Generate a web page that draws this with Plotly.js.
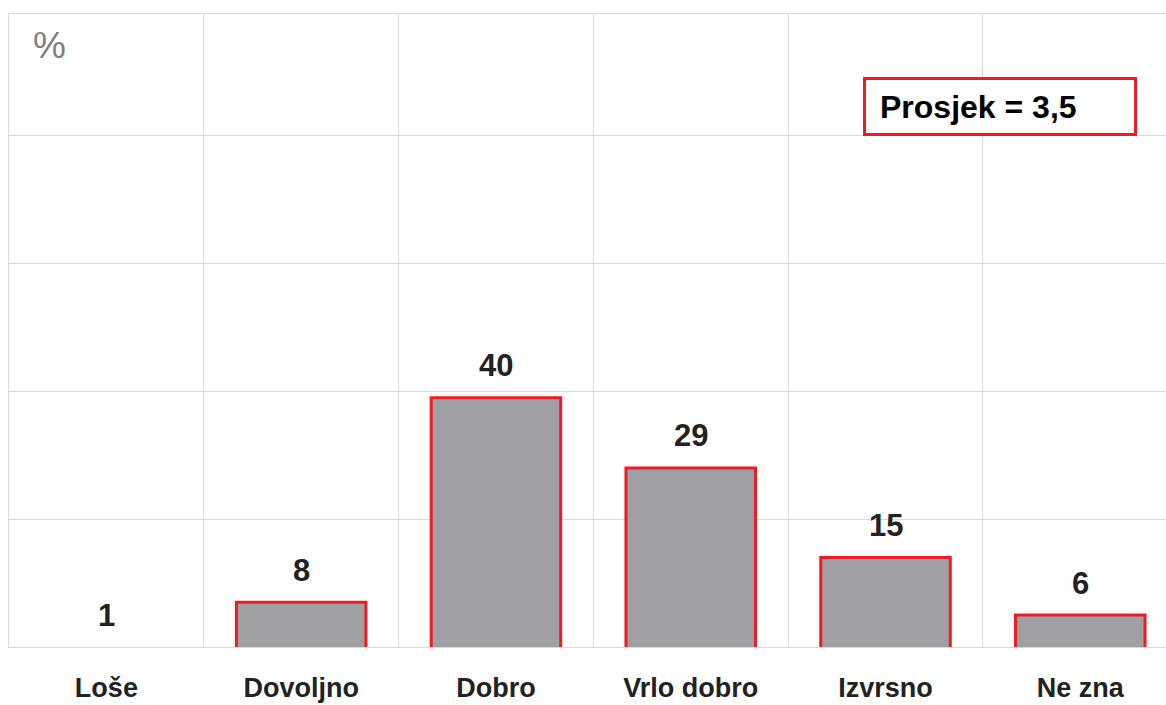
<!DOCTYPE html>
<html>
<head>
<meta charset="utf-8">
<script src="https://cdn.plot.ly/plotly-3.0.1.min.js"></script>
<style>
  html, body { margin: 0; padding: 0; background: #ffffff; }
  #chart { width: 1166px; height: 705px; }
</style>
</head>
<body>
<div id="chart"></div>
<script>
// Data
const categories = ["Loše", "Dovoljno", "Dobro", "Vrlo dobro", "Izvrsno", "Ne zna"];
const values = [1, 8, 40, 29, 15, 6];
const averageLabel = "Prosjek = 3,5";
const unitLabel = "%";

const FONT = "Liberation Sans, Arial, Helvetica, sans-serif";
const RED = "#ed1c24";
const GREY_BAR = "#a09fa4";
const GRID = "#d9d9d9";
const TEXT = "#222222";
const Y_MIN = 1;   // value axis starts at 1 in the reference
const Y_MAX = 100;

// bars that do not rise above the axis minimum show no outline
const outlineWidths = values.map(v => (v > Y_MIN ? 3 : 0));

const trace = {
  type: "bar",
  x: categories,
  y: values,
  width: 0.665,
  marker: {
    color: GREY_BAR,
    line: { color: RED, width: outlineWidths }
  },
  hoverinfo: "x+y"
};

const valueAnnotations = categories.map((c, i) => ({
  x: c,
  y: values[i],
  xref: "x",
  yref: "y",
  text: String(values[i]),
  showarrow: false,
  xanchor: "center",
  yanchor: "middle",
  yshift: 32,
  font: { family: FONT, size: 31, color: TEXT, weight: "bold" }
}));

const layout = {
  width: 1166,
  height: 705,
  margin: { l: 9, r: 0, t: 14, b: 57.5, pad: 0 },
  paper_bgcolor: "#ffffff",
  plot_bgcolor: "#ffffff",
  showlegend: false,
  bargap: 0.335,
  xaxis: {
    type: "category",
    range: [-0.5, 5.44],
    tickson: "boundaries",
    showgrid: true,
    gridcolor: GRID,
    gridwidth: 1,
    showline: true,
    linecolor: GRID,
    linewidth: 1,
    mirror: true,
    ticks: "",
    zeroline: false,
    ticklabelstandoff: 17,
    tickfont: { family: FONT, size: 27, color: TEXT, weight: "bold" },
    fixedrange: true
  },
  yaxis: {
    range: [Y_MIN, Y_MAX],
    tick0: Y_MIN,
    dtick: 20,
    showgrid: true,
    gridcolor: GRID,
    gridwidth: 1,
    showline: true,
    linecolor: GRID,
    linewidth: 1,
    showticklabels: false,
    ticks: "",
    zeroline: false,
    fixedrange: true
  },
  shapes: [
    {
      type: "rect",
      xref: "paper", yref: "paper",
      x0: 0.7394, x1: 0.9737, y0: 0.8098, y1: 0.8982,
      line: { color: RED, width: 3 },
      fillcolor: "#ffffff",
      layer: "above"
    }
  ],
  annotations: valueAnnotations.concat([
    {
      xref: "paper", yref: "paper",
      x: 0.7513, y: 0.8532,
      xanchor: "left", yanchor: "middle",
      text: averageLabel,
      showarrow: false,
      font: { family: FONT, size: 32, color: "#000000", weight: "bold" }
    },
    {
      xref: "paper", yref: "paper",
      x: 0.0354, y: 0.9503,
      xanchor: "center", yanchor: "middle",
      text: unitLabel,
      showarrow: false,
      font: { family: FONT, size: 37, color: "#7f7f7f" }
    }
  ])
};

Plotly.newPlot("chart", [trace], layout, { displayModeBar: false, staticPlot: true });
</script>
</body>
</html>
